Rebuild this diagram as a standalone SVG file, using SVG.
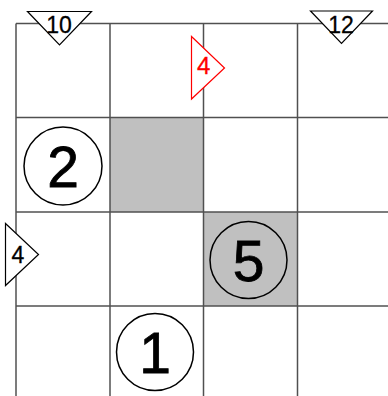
<svg xmlns="http://www.w3.org/2000/svg" width="388" height="396" viewBox="0 0 388 396">
<style>
.grid{stroke:#505050;stroke-width:1.5;fill:none}
.shade{fill:#c0c0c0}
.circ{fill:none;stroke:#000;stroke-width:1.5}
.big{font-family:"Liberation Sans",Arial,sans-serif;font-size:57px;fill:#000;stroke:#000;stroke-width:0.8;text-anchor:middle}
.tri{fill:#fff;stroke:#000;stroke-width:1.2}
.tri-red{fill:#fff;stroke:#f00;stroke-width:1.2}
.small{font-family:"Liberation Sans",Arial,sans-serif;font-size:23px;fill:#000;stroke:#000;stroke-width:0.3;text-anchor:middle}
.small-red{font-family:"Liberation Sans",Arial,sans-serif;font-size:24px;fill:#f00;stroke:#f00;stroke-width:0.3;text-anchor:middle}
</style>
<rect width="388" height="396" fill="#fff"/>
<g id="shaded">
<rect class="shade" x="110" y="117.5" width="93.5" height="94.5"/>
<rect class="shade" x="203.5" y="212" width="94" height="94"/>
</g>
<g id="grid" class="grid">
<line x1="16" y1="23.5" x2="388" y2="23.5"/>
<line x1="16" y1="117.5" x2="388" y2="117.5"/>
<line x1="16" y1="212" x2="388" y2="212"/>
<line x1="16" y1="306" x2="388" y2="306"/>
<line x1="16" y1="23.5" x2="16" y2="396"/>
<line x1="110" y1="23.5" x2="110" y2="396"/>
<line x1="203.5" y1="23.5" x2="203.5" y2="396"/>
<line x1="297.5" y1="23.5" x2="297.5" y2="396"/>
</g>
<g id="node-2">
<circle class="circ" cx="63" cy="166" r="39"/>
<text class="big" x="63" y="186.5">2</text>
</g>
<g id="node-5">
<circle class="circ" cx="248.5" cy="260" r="38.5"/>
<text class="big" x="248.5" y="280.5">5</text>
</g>
<g id="node-1">
<circle class="circ" cx="155" cy="352" r="38.5"/>
<text class="big" x="155" y="372.5">1</text>
</g>
<g id="clue-10">
<polygon class="tri" points="27.5,11.5 91.5,11.5 59.5,45"/>
<text class="small" x="59" y="33.3">10</text>
</g>
<g id="clue-12">
<polygon class="tri" points="310.5,11 372.5,11 341.5,43.5"/>
<text class="small" x="341" y="32.5">12</text>
</g>
<g id="clue-4-red">
<polygon class="tri-red" points="191.5,36.5 224.5,68 191.5,99"/>
<text class="small-red" x="203.8" y="73.5">4</text>
</g>
<g id="clue-4">
<polygon class="tri" points="5.5,223.5 38.5,254.5 5.5,285.5"/>
<text class="small" x="18" y="262.5">4</text>
</g>
</svg>
